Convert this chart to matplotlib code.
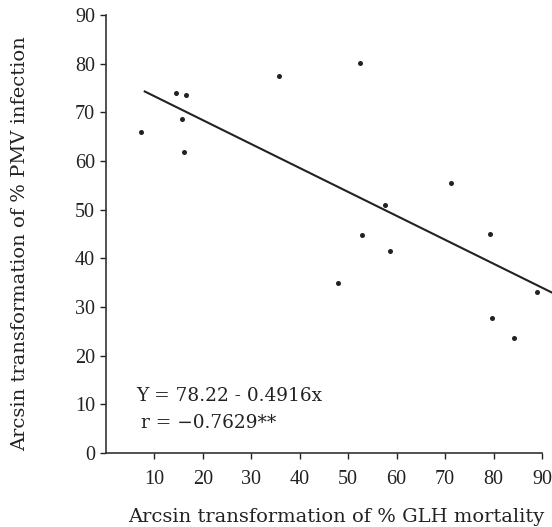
import matplotlib
matplotlib.use("Agg")
import matplotlib.pyplot as plt
import numpy as np

plt.rcParams['font.family'] = ['Liberation Serif', 'DejaVu Serif']

# Data
glh_mortality = [7.3, 14.4, 16.5, 15.6, 16.2, 35.8, 52.4, 71.2, 57.5, 52.9, 58.7, 79.3, 47.8, 88.9, 79.7, 84.2]
pmv_infection = [65.9, 73.9, 73.6, 68.6, 61.9, 77.5, 80.2, 55.4, 51.0, 44.7, 41.5, 45.1, 34.9, 33.1, 27.8, 23.6]
intercept = 78.22
slope = -0.4916
line_x = [8, 92]
x_ticks = [10, 20, 30, 40, 50, 60, 70, 80, 90]
y_ticks = [0, 10, 20, 30, 40, 50, 60, 70, 80, 90]

W, H = 552, 527
fig = plt.figure(figsize=(W / 100, H / 100), dpi=100)
ax = fig.add_axes([106 / W, 1 - 453 / H, 436 / W, 438 / H])

ax.scatter(glh_mortality, pmv_infection, s=13, color='#222222', zorder=3, linewidths=0)
lx = np.array(line_x)
ax.plot(lx, intercept + slope * lx, color='#222222', lw=1.5, clip_on=False)

ax.set_xlim(0, 90)
ax.set_ylim(0, 90)
ax.set_xticks(x_ticks)
ax.set_yticks(y_ticks)
ax.spines['top'].set_visible(False)
ax.spines['right'].set_visible(False)
for s in ('left', 'bottom'):
    ax.spines[s].set_linewidth(1.2)
    ax.spines[s].set_color('#333333')
ax.tick_params(direction='out', length=4, width=1.0, labelsize=14.5, colors='#222222', pad=4)
ax.tick_params(axis='x', pad=8)

label_font = 'DejaVu Serif'
ax.text(6.3, 11.7, 'Y = 78.22 - 0.4916x', fontsize=13.3, family=label_font,
        va='center', ha='left', color='#222222')
ax.text(7.3, 6.2, 'r = \u22120.7629**', fontsize=13.3, family=label_font,
        va='center', ha='left', color='#222222')

fig.text(336 / W, 1 - 517 / H, 'Arcsin transformation of % GLH mortality', fontsize=14,
         family=label_font, ha='center', va='center', color='#222222')
fig.text(20 / W, 1 - 244 / H, 'Arcsin transformation of % PMV infection', fontsize=14,
         family=label_font, ha='center', va='center', rotation=90, color='#222222')

fig.savefig('out.png', dpi=100)
